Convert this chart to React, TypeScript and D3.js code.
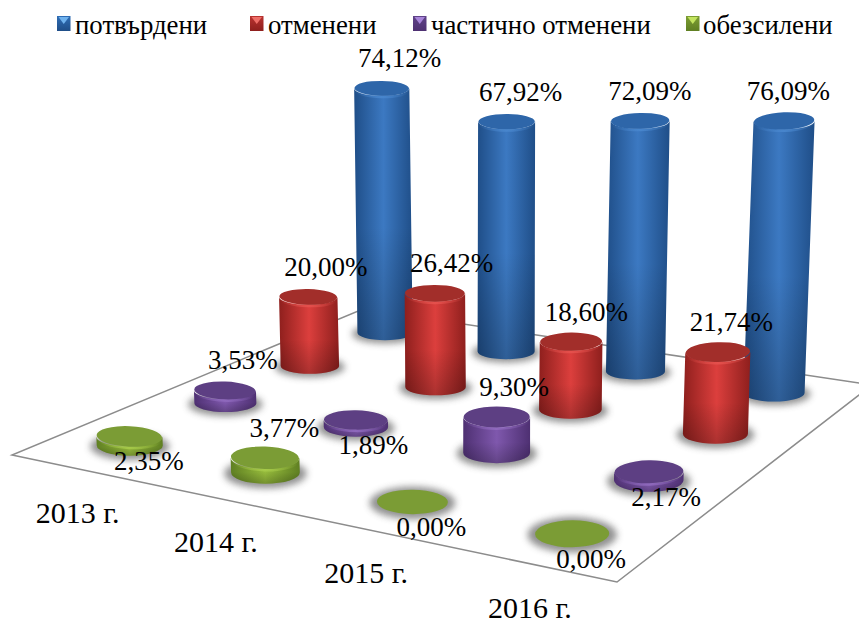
import React from "react";
import * as d3 from "d3";

const years = ["2013 г.", "2014 г.", "2015 г.", "2016 г."];
const seriesNames = ["потвърдени", "отменени", "частично отменени", "обезсилени"];
const potvardeni = [74.12, 67.92, 72.09, 76.09];
const otmeneni = [20.0, 26.42, 18.6, 21.74];
const chastichno = [3.53, 1.89, 9.3, 2.17];
const obezsileni = [2.35, 3.77, 0, 0];
const seriesValues = [potvardeni, otmeneni, chastichno, obezsileni];
const palette = [
  { id: "b", mid: "#3c79c2", edge: "#1f4e88", cap: "#2e66a9", rim: "#4a88cf", key: "#2f6db5", keyTop: "#6fb2ee" },
  { id: "r", mid: "#dc3f3d", edge: "#8e1f1d", cap: "#a22e2a", rim: "#e6534f", key: "#b93330", keyTop: "#ee6e68" },
  { id: "p", mid: "#7f58ad", edge: "#4e3072", cap: "#5d3f83", rim: "#926cc0", key: "#5f4388", keyTop: "#a885da" },
  { id: "g", mid: "#96bb3c", edge: "#5f7f22", cap: "#7b9c35", rim: "#a8cc4b", key: "#7d9e34", keyTop: "#c3e45f" },
];
const legendKeyX = [57, 250, 413, 686];
const legendTextX = [75, 268, 431, 703];

const W = 859;
const H = 619;
const FONT = "'Liberation Serif','Times New Roman',serif";
const corners = { l: [12, 455], f: [617, 582], r: [872, 385], b: [363, 309] };

function makeHomography() {
  const [x0, y0] = corners.l, [x1, y1] = corners.f, [x2, y2] = corners.r, [x3, y3] = corners.b;
  const sx = x0 - x1 + x2 - x3, sy = y0 - y1 + y2 - y3;
  const dx1 = x1 - x2, dx2 = x3 - x2, dy1 = y1 - y2, dy2 = y3 - y2;
  const det = dx1 * dy2 - dx2 * dy1;
  const g = (sx * dy2 - dx2 * sy) / det, h = (dx1 * sy - sx * dy1) / det;
  const a = x1 - x0 + g * x1, b = x3 - x0 + h * x3, d = y1 - y0 + g * y1, e = y3 - y0 + h * y3;
  return (u: number, v: number) => {
    const w = g * u + h * v + 1;
    return { x: (a * u + b * v + x0) / w, y: (d * u + e * v + y0) / w, w };
  };
}
const project = makeHomography();
const uScale = d3.scaleBand<string>().domain(years).range([0, 1]);
const vScale = d3.scaleBand<number>().domain([3, 2, 1, 0]).range([0, 1]);
const heightScale = d3.scaleLinear().domain([0, 100]).range([0, 385]);

function geometry(si: number, yi: number, value: number) {
  const u = uScale(years[yi])! + uScale.bandwidth() / 2;
  const v = vScale(si)! + vScale.bandwidth() / 2;
  const p = project(u, v);
  const rx = 33.5 / p.w;
  const ry = rx * (0.27 + Math.max(0, p.y - 373) * 0.00056);
  const h = heightScale(value) / Math.pow(p.w, 0.8);
  const lean = (p.x - 490) * 1.3e-4;
  return { ...p, rx, ry, h, lean, tx: p.x + h * lean, ty: p.y - h };
}

function Cylinder({ si, yi, value }: { si: number; yi: number; value: number }) {
  const c = palette[si];
  const g = geometry(si, yi, value);
  const angle = (Math.atan(g.lean) * 180) / Math.PI;
  const body = `M${g.x - g.rx},${g.y} L${g.tx - g.rx},${g.ty} A${g.rx},${g.ry} 0 0 0 ${g.tx + g.rx},${g.ty} L${g.x + g.rx},${g.y} A${g.rx},${g.ry} 0 0 1 ${g.x - g.rx},${g.y} Z`;
  return (
    <g>
      <ellipse cx={g.x} cy={g.y + 1} rx={g.rx * 1.2} ry={g.ry * 1.32} fill="#4d4d4d" opacity={0.62} filter="url(#soft)" />
      {value > 0 && (
        <>
          <path d={body} fill={`url(#body-${c.id})`} />
          <path d={body} fill="url(#foot)" />
          <ellipse cx={g.tx} cy={g.ty + 2.5} rx={g.rx - 0.3} ry={g.ry} fill={`url(#rim-${c.id})`} transform={`rotate(${-angle} ${g.tx} ${g.ty})`} />
        </>
      )}
      <ellipse cx={g.tx} cy={g.ty} rx={g.rx - 0.3} ry={g.ry} fill={c.cap} transform={`rotate(${-angle} ${g.tx} ${g.ty})`} />
    </g>
  );
}

function labelFor(si: number, yi: number) {
  return seriesValues[si][yi].toFixed(2).replace(".", ",") + "%";
}

export default function App() {
  const floor = d3.line()([corners.l, corners.f, corners.r, corners.b] as [number, number][]) + "Z";
  return (
    <svg width={W} height={H} viewBox={`0 0 ${W} ${H}`} style={{ position: "absolute", left: 0, top: 0, background: "#fff" }} fontFamily={FONT}>
      <defs>
        <filter id="soft" x="-40%" y="-60%" width="180%" height="220%">
          <feGaussianBlur stdDeviation="3.5" />
        </filter>
        <linearGradient id="foot" x1="0" x2="0" y1="0" y2="1">
          <stop offset="0.55" stopColor="#000" stopOpacity="0" />
          <stop offset="1" stopColor="#000" stopOpacity="0.22" />
        </linearGradient>
        {palette.map((c) => (
          <React.Fragment key={c.id}>
            <linearGradient id={`body-${c.id}`} x1="0" x2="1" y1="0" y2="0">
              <stop offset="0" stopColor={c.edge} />
              <stop offset="0.5" stopColor={c.mid} />
              <stop offset="1" stopColor={c.edge} />
            </linearGradient>
            <linearGradient id={`rim-${c.id}`} x1="0" x2="1" y1="0" y2="0">
              <stop offset="0" stopColor={c.rim} stopOpacity="0" />
              <stop offset="0.5" stopColor={c.rim} stopOpacity="0.85" />
              <stop offset="1" stopColor={c.rim} stopOpacity="0" />
            </linearGradient>
            <linearGradient id={`key-${c.id}`} x1="0" x2="0" y1="0" y2="1">
              <stop offset="0" stopColor={c.key} />
              <stop offset="1" stopColor={c.edge} />
            </linearGradient>
          </React.Fragment>
        ))}
      </defs>

      <path d={floor} fill="#fff" stroke="#8c8c8c" strokeWidth={1.5} />

      {seriesValues.map((vals, si) => vals.map((value, yi) => <Cylinder key={`${si}-${yi}`} si={si} yi={yi} value={value} />))}

      {seriesValues.map((vals, si) =>
        vals.map((value, yi) => {
          const g = geometry(si, yi, value);
          const below = value < 3;
          return (
            <text key={`l-${si}-${yi}`} x={g.x + 14.5 + si * 1.5} y={g.ty + (below ? 34 : -21)} textAnchor="middle" fontSize={27} fill="#000">
              {labelFor(si, yi)}
            </text>
          );
        })
      )}

      {years.map((y) => {
        const u = uScale(y)! + uScale.bandwidth() / 2;
        const p = project(u, 0);
        return (
          <text key={y} x={p.x + 0.5} y={p.y + 54} textAnchor="middle" fontSize={30} fill="#000">
            {y}
          </text>
        );
      })}

      {seriesNames.map((name, i) => {
        const c = palette[i];
        const kx = legendKeyX[i];
        return (
          <g key={name}>
            <rect x={kx} y={16} width={13.5} height={15} fill={`url(#key-${c.id})`} />
            <path d={`M${kx + 1.5},17 L${kx + 12},17 L${kx + 6.75},24 Z`} fill={c.keyTop} />
            <text x={legendTextX[i]} y={34} fontSize={26.8} fill="#000">
              {name}
            </text>
          </g>
        );
      })}
    </svg>
  );
}
